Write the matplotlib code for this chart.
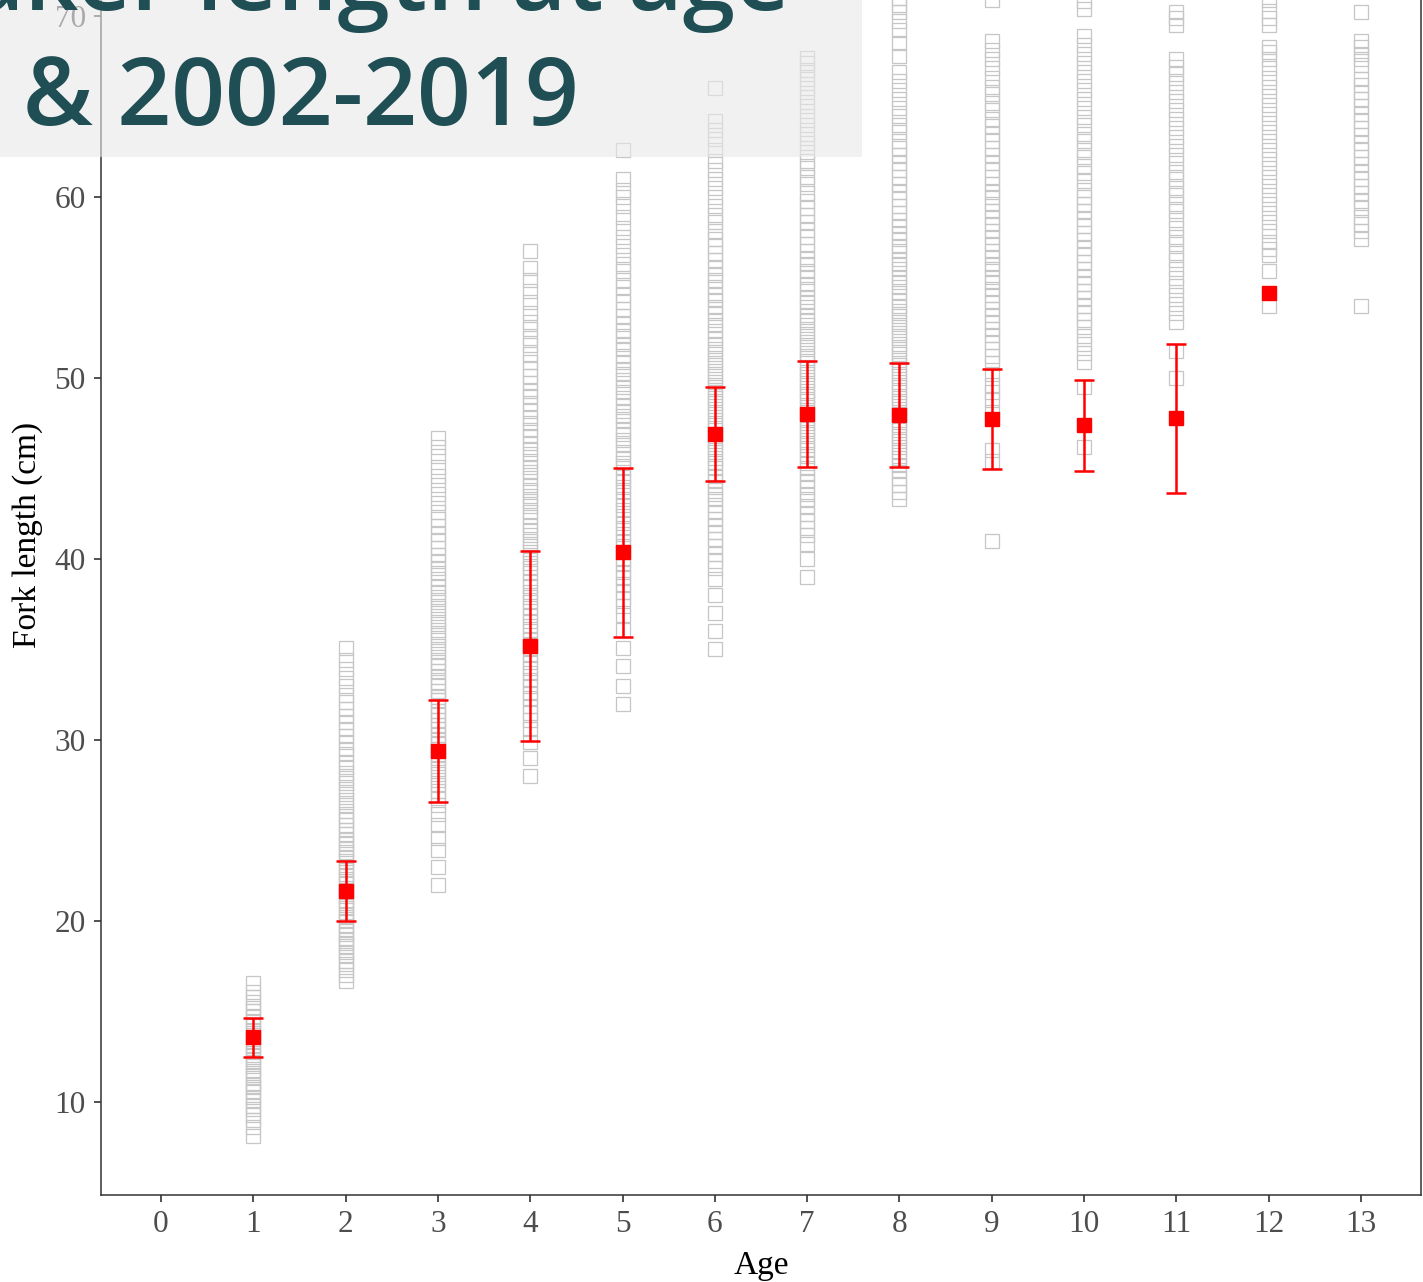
import matplotlib
matplotlib.use("Agg")
import matplotlib.pyplot as plt
import numpy as np

# ---- data ----
ages = list(range(14))

age1 = [8.1, 8.6, 9.0, 9.3, 9.6, 9.8, 10.1, 10.3, 10.6, 10.8, 11.0, 11.3, 11.5, 11.7, 12.0, 12.2, 12.4, 12.6,
        12.9, 13.1, 13.3, 13.5, 13.8, 14.0, 14.2, 14.5, 14.7, 15.0, 15.2, 15.5, 15.8, 16.1, 16.6]
age2 = [16.7, 17.0, 17.3, 17.6, 17.8, 18.1, 18.3, 18.6, 18.8, 19.0, 19.3, 19.5, 19.7, 20.0, 20.2, 20.4, 20.7,
        20.9, 21.1, 21.4, 21.6, 21.8, 22.1, 22.3, 22.5, 22.8, 23.0, 23.3, 23.5, 23.8, 24.0, 24.3, 24.5, 24.8,
        25.0, 25.3, 25.6, 25.8, 26.1, 26.4, 26.7, 27.0, 27.3, 27.6, 27.9, 28.2, 28.5, 28.8, 29.2, 29.5, 29.9,
        30.2, 30.6, 31.0, 31.3, 31.7, 32.1, 32.5, 33.0, 33.4, 33.9, 34.4, 35.1]
age3 = [22.0, 23.0, 23.9, 24.6, 25.3, 25.9, 26.4, 26.8, 27.2, 27.5, 27.8, 28.1, 28.4, 28.7, 29.0, 29.2, 29.5,
        29.8, 30.0, 30.3, 30.6, 30.8, 31.1, 31.4, 31.6, 31.9, 32.2, 32.4, 32.7, 33.0, 33.2, 33.5, 33.8, 34.1,
        34.3, 34.6, 34.9, 35.2, 35.5, 35.8, 36.1, 36.4, 36.7, 37.0, 37.3, 37.6, 37.9, 38.2, 38.5, 38.9, 39.2,
        39.5, 39.9, 40.2, 40.6, 41.0, 41.4, 41.8, 42.2, 42.6, 43.1, 43.6, 44.1, 44.6, 45.1, 45.7, 46.2, 46.7]
age4 = [28.0, 29.0, 29.9, 30.6, 31.1, 31.5, 31.9, 32.3, 32.6, 33.0, 33.3, 33.7, 34.0, 34.3, 34.7, 35.0, 35.3,
        35.6, 36.0, 36.3, 36.6, 36.9, 37.3, 37.6, 37.9, 38.2, 38.5, 38.8, 39.2, 39.5, 39.8, 40.1, 40.4, 40.7,
        41.0, 41.3, 41.6, 41.9, 42.3, 42.6, 42.9, 43.2, 43.5, 43.8, 44.1, 44.5, 44.8, 45.1, 45.4, 45.8, 46.1,
        46.4, 46.8, 47.1, 47.5, 47.8, 48.2, 48.6, 49.0, 49.3, 49.7, 50.1, 50.5, 50.9, 51.3, 51.8, 52.2, 52.7,
        53.1, 53.6, 54.2, 54.8, 55.4, 56.1, 57.0]
age5 = [32.0, 33.0, 34.1, 35.1, 36.1, 36.9, 37.4, 37.8, 38.2, 38.6, 39.0, 39.3, 39.7, 40.0, 40.4, 40.7, 41.0,
        41.4, 41.7, 42.0, 42.4, 42.7, 43.0, 43.3, 43.7, 44.0, 44.3, 44.6, 45.0, 45.3, 45.6, 45.9, 46.3, 46.6,
        46.9, 47.2, 47.6, 47.9, 48.2, 48.5, 48.9, 49.2, 49.5, 49.9, 50.2, 50.5, 50.9, 51.2, 51.6, 51.9, 52.3,
        52.6, 53.0, 53.4, 53.8, 54.2, 54.6, 55.0, 55.4, 55.9, 56.3, 56.8, 57.3, 57.8, 58.3, 58.9, 59.5, 60.0,
        60.4, 61.0, 62.6]
age6 = [35.0, 36.0, 37.0, 38.0, 38.9, 39.5, 39.9, 40.3, 40.7, 41.1, 41.5, 41.9, 42.2, 42.6, 43.0, 43.3, 43.6,
        44.0, 44.3, 44.6, 45.0, 45.3, 45.6, 45.9, 46.2, 46.5, 46.8, 47.1, 47.4, 47.7, 48.0, 48.3, 48.6, 48.9,
        49.2, 49.5, 49.8, 50.1, 50.4, 50.7, 51.0, 51.3, 51.6, 51.9, 52.2, 52.6, 52.9, 53.2, 53.6, 53.9, 54.3,
        54.6, 55.0, 55.4, 55.7, 56.1, 56.5, 56.9, 57.3, 57.7, 58.1, 58.6, 59.0, 59.5, 60.0, 60.5, 61.0, 61.5,
        62.0, 62.6, 63.2, 63.7, 64.2, 66.0]
age7 = [39.0, 40.0, 40.8, 41.3, 41.7, 42.1, 42.5, 42.9, 43.3, 43.6, 44.0, 44.3, 44.7, 45.0, 45.3, 45.7, 46.0,
        46.3, 46.6, 46.9, 47.2, 47.5, 47.8, 48.1, 48.4, 48.7, 49.0, 49.3, 49.6, 49.9, 50.2, 50.5, 50.8, 51.1,
        51.4, 51.7, 52.0, 52.3, 52.6, 52.9, 53.2, 53.5, 53.9, 54.2, 54.5, 54.9, 55.2, 55.6, 55.9, 56.3, 56.6,
        57.0, 57.4, 57.8, 58.2, 58.6, 59.0, 59.4, 59.8, 60.2, 60.7, 61.1, 61.6, 62.0, 62.5, 63.0, 63.5, 64.0,
        64.5, 65.0, 65.5, 66.0, 66.5, 67.0, 67.4, 67.7]
age8 = [43.3, 43.7, 44.1, 44.5, 44.9, 45.2, 45.6, 45.9, 46.2, 46.5, 46.8, 47.1, 47.4, 47.7, 48.0, 48.3, 48.6,
        48.9, 49.2, 49.5, 49.8, 50.1, 50.4, 50.7, 51.0, 51.3, 51.6, 51.9, 52.2, 52.5, 52.8, 53.1, 53.4, 53.7,
        54.0, 54.3, 54.7, 55.0, 55.3, 55.6, 56.0, 56.3, 56.6, 57.0, 57.3, 57.7, 58.0, 58.4, 58.7, 59.1, 59.5,
        59.9, 60.3, 60.7, 61.1, 61.5, 61.9, 62.3, 62.7, 63.1, 63.6, 64.0, 64.5, 64.9, 65.4, 65.9, 66.4, 66.9,
        67.8, 68.5, 69.2, 69.7, 70.2, 70.6, 71.0, 71.5, 72.1]
age9 = [41.0, 45.4, 46.0, 48.1, 48.8, 49.2, 49.6, 50.2, 50.8, 51.2, 51.6, 52.0, 52.4, 52.7, 53.1, 53.5, 53.8,
        54.2, 54.6, 54.9, 55.3, 55.6, 56.0, 56.3, 56.7, 57.0, 57.4, 57.8, 58.1, 58.5, 58.9, 59.2, 59.6, 60.0,
        60.3, 60.7, 61.1, 61.5, 61.9, 62.3, 62.7, 63.1, 63.5, 63.9, 64.3, 64.8, 65.2, 65.7, 66.1, 66.6, 67.1,
        67.6, 68.1, 68.6, 70.9]
age10 = [46.2, 49.5, 50.9, 51.4, 51.9, 52.3, 52.8, 53.2, 53.6, 54.0, 54.4, 54.8, 55.2, 55.6, 56.0, 56.4, 56.8,
         57.2, 57.6, 58.0, 58.4, 58.8, 59.2, 59.6, 60.0, 60.4, 60.9, 61.3, 61.7, 62.2, 62.6, 63.1, 63.5, 64.0,
         64.4, 64.9, 65.4, 65.9, 66.4, 66.9, 67.4, 67.9, 68.4, 68.9, 70.4, 70.8]
age11 = [50.0, 51.5, 53.1, 53.6, 54.1, 54.6, 55.1, 55.5, 56.0, 56.5, 56.9, 57.4, 57.8, 58.3, 58.7, 59.2, 59.6,
         60.1, 60.5, 61.0, 61.4, 61.9, 62.3, 62.8, 63.3, 63.8, 64.3, 64.8, 65.3, 65.8, 66.3, 66.8, 67.2, 67.6,
         69.5, 69.9, 70.2]
age12 = [54.0, 55.9, 56.8, 57.1, 57.5, 58.1, 58.6, 59.1, 59.6, 60.1, 60.6, 61.1, 61.6, 62.1, 62.6, 63.1, 63.6,
         64.1, 64.6, 65.1, 65.6, 66.1, 66.6, 67.1, 67.6, 68.0, 68.3, 69.5, 69.9, 70.3, 70.9]
age13 = [54.0, 57.7, 58.1, 58.5, 58.9, 59.4, 59.8, 60.2, 60.6, 61.0, 61.4, 61.8, 62.2, 62.6, 63.0, 63.4, 63.8,
         64.2, 64.6, 65.0, 65.4, 65.8, 66.2, 66.5, 67.3, 67.6, 67.9, 68.3, 68.6, 70.2]

obs_by_age = {1: age1, 2: age2, 3: age3, 4: age4, 5: age5, 6: age6, 7: age7,
              8: age8, 9: age9, 10: age10, 11: age11, 12: age12, 13: age13}

mean_ages = [1, 2, 3, 4, 5, 6, 7, 8, 9, 10, 11, 12]
mean_len = [13.57, 21.65, 29.4, 35.19, 40.36, 46.9, 48.01, 47.96, 47.74, 47.38, 47.77, 54.7]
sd_len = [1.07, 1.65, 2.8, 5.25, 4.67, 2.6, 2.93, 2.88, 2.77, 2.52, 4.12, np.nan]

title_line1 = "Croaker length at age"
title_line2 = "& 2002-2019"
xlabel = "Age"
ylabel = "Fork length (cm)"
yticks = [10, 20, 30, 40, 50, 60, 70]

# ---- figure ----
W, H = 1423, 1282
fig = plt.figure(figsize=(W / 100, H / 100), dpi=100)
fig.patch.set_facecolor("white")

px_per_cm = 18.1
y_bottom_data = 4.86
y_top_data = 77.8
ax_left_px, ax_right_px, ax_bottom_px = 101, 1421, 1195
ax_h_px = (y_top_data - y_bottom_data) * px_per_cm
ax = fig.add_axes([ax_left_px / W, (H - ax_bottom_px) / H,
                   (ax_right_px - ax_left_px) / W, ax_h_px / H])

for a in range(1, 14):
    vals = obs_by_age[a]
    ax.plot([a] * len(vals), vals, linestyle="none", marker="s", markersize=10.5,
            markerfacecolor="none", markeredgecolor="#c6c6c6", markeredgewidth=0.9, zorder=2)

ax.errorbar(mean_ages, mean_len, yerr=sd_len, fmt="s", color="red", ecolor="red",
            markersize=10, elinewidth=1.8, capsize=7, capthick=1.8, zorder=3)

ax.set_xlim(-0.65, 13.65)
ax.set_ylim(y_bottom_data, y_top_data)
ax.set_xticks(ages)
ax.set_yticks(yticks)

serif = ["Liberation Serif", "DejaVu Serif"]
for lbl in ax.get_xticklabels() + ax.get_yticklabels():
    lbl.set_family(serif)
    lbl.set_fontsize(22.5)
    lbl.set_color("#4d4d4d")

ax.tick_params(axis="both", direction="out", length=5, width=1.2, color="#333333", pad=6)
for s in ax.spines.values():
    s.set_color("#333333")
    s.set_linewidth(1.1)

ax.set_xlabel(xlabel, family=serif, fontsize=24, color="black", labelpad=8)
ax.set_ylabel(ylabel, family=serif, fontsize=24, color="black", labelpad=8)

# ---- title overlay box ----
box_h = 157
fig.patches.append(matplotlib.patches.Rectangle(
    (0, 1 - box_h / H), 862 / W, box_h / H, transform=fig.transFigure,
    facecolor=(233 / 255, 233 / 255, 233 / 255), alpha=0.6, edgecolor="none", zorder=10))

tcolor = "#1f4e55"
cx = 301 / W
fig.text(cx, 1 - 10 / H, title_line1, ha="center", va="baseline", fontsize=68,
         family=["Open Sans", "DejaVu Sans"], weight="semibold", color=tcolor, zorder=11)
fig.text(cx, 1 - 125 / H, title_line2, ha="center", va="baseline", fontsize=68,
         family=["Open Sans", "DejaVu Sans"], weight="semibold", color=tcolor, zorder=11)

fig.savefig("out.png", dpi=100)
